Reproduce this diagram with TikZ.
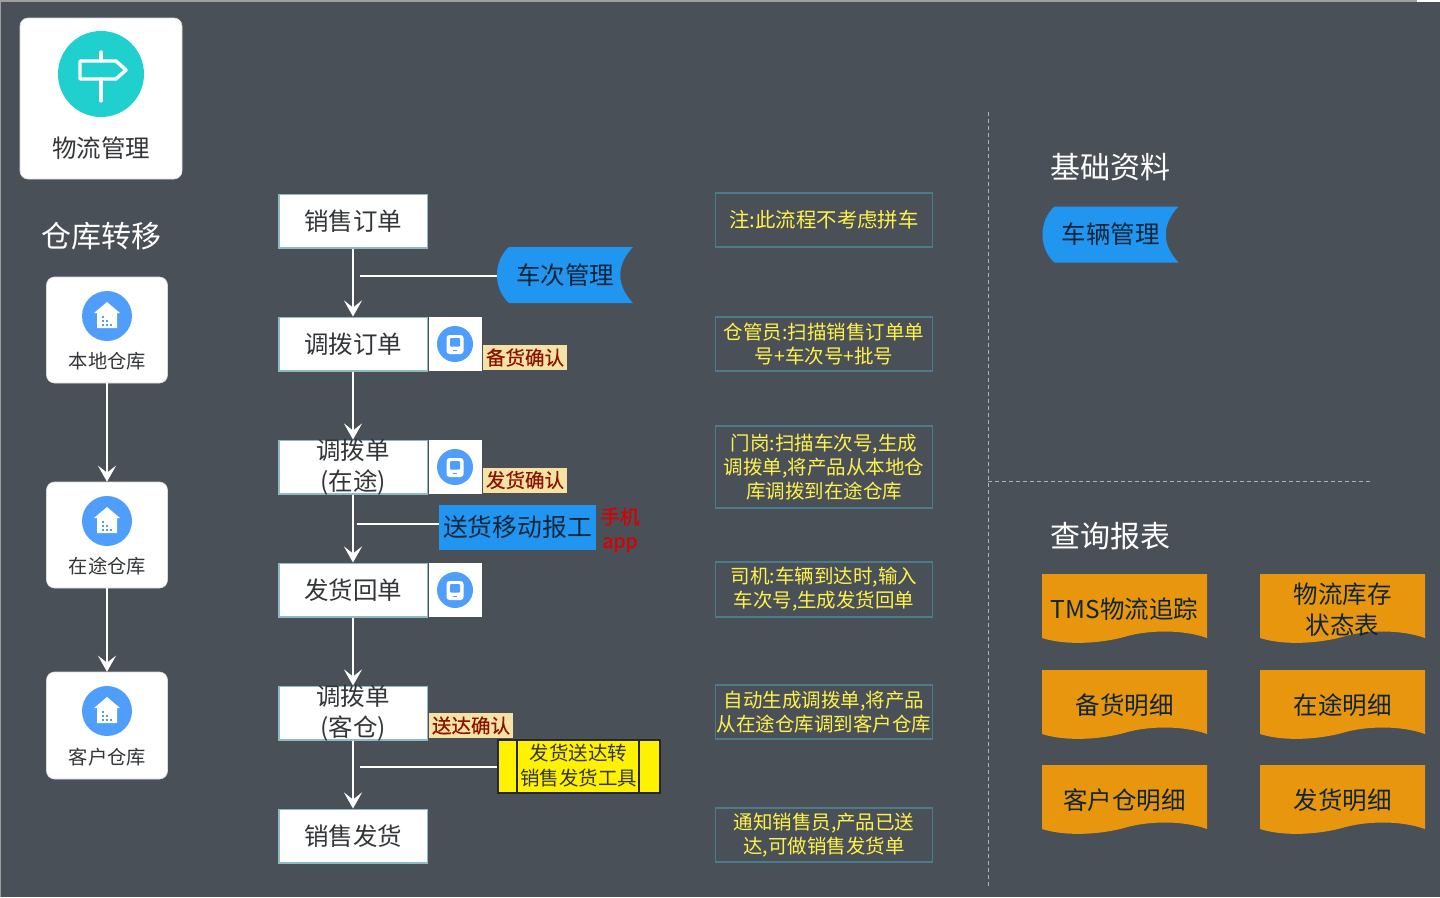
\documentclass[tikz,border=0pt]{standalone}
\usepackage{fontspec}
\setmainfont{Noto Sans CJK SC}
\newfontfamily\tagfont[FakeBold=0.5]{Noto Sans CJK SC}
\usetikzlibrary{arrows.meta}
\definecolor{slate}{HTML}{4A5057}
\definecolor{edgeblue}{HTML}{8DBAC4}
\definecolor{notebox}{HTML}{4C7C8A}
\definecolor{noteink}{HTML}{FFF24D}
\definecolor{tagfill}{HTML}{F6E2A4}
\definecolor{tagink}{HTML}{8A1200}
\definecolor{skyblue}{HTML}{2196F0}
\definecolor{iconblue}{HTML}{4F9EFC}
\definecolor{teal}{HTML}{1FD0CE}
\definecolor{amber}{HTML}{E8960E}
\definecolor{ink}{HTML}{333638}
\definecolor{navy}{HTML}{0F2538}
\newcommand{\toolong}[2][-8.5pt]{\smash{\raisebox{#1}{\begin{tabular}{@{}c@{}}#2\end{tabular}}}}
\tikzset{
  px/.style = {font={\fontsize{#1}{31}\selectfont}},
  scanner/.pic = {
    \fill[iconblue] (0,0) circle (18);
    \fill[white, rounded corners=3pt] (-8.5,-9) rectangle (8.5,10);
    \fill[iconblue, rounded corners=1pt] (-5,-6) rectangle (5,2.5);
    \fill[iconblue] (-2,6) rectangle (2,7);
  },
  depot/.pic = {
    \fill[iconblue] (0,0) circle (25);
    \fill[white] (0,-14) -- (13,-3) -- (10,-3) -- (10,12) -- (-10,12) -- (-10,-3) -- (-13,-3) -- cycle;
    \foreach \x/\y in {-5/0, -5/4, -5/8, -1/4, -1/8, 3/8}
      \fill[iconblue] (\x,\y) rectangle ++(2.2,2.2);
  },
  stored/.pic = {
    \fill[skyblue] (-56,-28) -- (68,-28) .. controls (51,-10) and (51,10) .. (68,28) -- (-56,28)
      .. controls (-72,14) and (-72,-14) .. (-56,-28) -- cycle;
  },
  wavy/.pic = {
    \fill[amber] (-82.5,-35) -- (82.5,-35) -- (82.5,29) .. controls (57.5,20) and (22.5,21) .. (-0.5,28)
      .. controls (-22.5,34) and (-57.5,37) .. (-82.5,29) -- cycle;
  }
}
\begin{document}
\begin{tikzpicture}[x=1pt, y=-1pt, node distance={123pt}, thick,
    main/.style = {draw=edgeblue, line width=1.5pt, fill=white, text=ink, minimum width=148.5pt, minimum height=53.5pt, inner sep=0pt, px=24.5},
    iconbox/.style = {fill=white, minimum width=53pt, minimum height=54pt, inner sep=0pt},
    tag/.style = {fill=tagfill, text=tagink, minimum width=84pt, minimum height=25pt, inner sep=0pt, font=\fontsize{19.5}{24}\tagfont},
    note/.style = {draw=notebox, line width=1.5pt, text=noteink, minimum width=217pt, inner sep=0pt, align=center, font=\fontsize{19.5}{24}\selectfont},
    card/.style = {draw=gray!30, line width=.6pt, fill=white, rounded corners=8pt, inner sep=0pt},
    cardtext/.style = {text=ink, inner sep=0pt, font=\fontsize{19.3}{24}\selectfont},
    title/.style = {text=white, inner sep=0pt, font=\fontsize{30}{36}\selectfont},
    flow/.style = {white, line width=2.4pt, -{Stealth[length=16pt, width=18pt, inset=7pt]}},
    tie/.style = {white, line width=2.4pt},
    rule/.style = {gray!60, line width=.9pt, dash pattern=on 4pt off 3pt},
    storedtext/.style = {minimum width=136pt, minimum height=56pt, inner sep=0pt, text=navy, px=24.5},
    report/.style = {minimum width=165pt, minimum height=70pt, inner sep=0pt, text=navy, px=24.5}]
    \useasboundingbox (0,0) rectangle (1440,897);
    \fill[slate] (0,0) rectangle (1440,897);
    \fill[gray!75] (0,0) rectangle (1440,2);
    \fill[gray!75] (0,0) rectangle (1,897);
    \fill[white] (1417,0) rectangle (1440,2);

    % left column
    \node[card, minimum width=162pt, minimum height=161pt] (0) at (101,98.5) {};
    \fill[teal] (101,74) circle (43);
    \draw[white, line width=3.4pt, line cap=round, line join=round] (80,61) -- (116,61) -- (126,70) -- (116,79) -- (80,79) -- cycle;
    \draw[white, line width=3.4pt, line cap=round] (101,52) -- (101,61);
    \draw[white, line width=3.4pt, line cap=round] (101,79) -- (101,101);
    \node[text=ink, inner sep=0pt, font=\fontsize{24.5}{30}\selectfont] (a) at (101,148) {物流管理};
    \node[title] (b) at (101,236) {仓库转移};
    \node[card, minimum width=121pt, minimum height=106pt] (c1) at (107,330) {};
    \node[card, minimum width=121pt, minimum height=106pt] (c2) at (107,535) {};
    \node[card, minimum width=121pt, minimum height=107pt] (c3) at (107,725.5) {};
    \pic at (107,316) {depot};
    \pic at (107,521) {depot};
    \pic at (107,711) {depot};
    \node[cardtext] at (107.5,361) {本地仓库};
    \node[cardtext] at (107.5,566) {在途仓库};
    \node[cardtext] at (107.5,757) {客户仓库};
    \draw[flow] (c1) -- (c2);
    \draw[flow] (c2) -- (c3);

    % flow
    \node[main] (1) at (353,221) {销售订单};
    \node[main] (2) [below of=1] {调拨订单};
    \node[main] (3) [below of=2] {\toolong{调拨单\\(在途)}};
    \node[main] (4) [below of=3] {发货回单};
    \node[main] (5) [below of=4] {\toolong{调拨单\\(客仓)}};
    \node[main] (6) [below of=5] {销售发货};
    \draw[flow] (1) -- (2);
    \draw[flow] (2) -- (3);
    \draw[flow] (3) -- (4);
    \draw[flow] (4) -- (5);
    \draw[flow] (5) -- (6);

    \node[iconbox] (i2) [right of=2, node distance={102pt}] {};
    \node[iconbox] (i3) [right of=3, node distance={102pt}] {};
    \node[iconbox] (i4) [right of=4, node distance={102pt}] {};
    \pic at (i2) {scanner};
    \pic at (i3) {scanner};
    \pic at (i4) {scanner};
    \node[tag] (t2) at (525,357.5) {备货确认};
    \node[tag] (t3) at (525,480) {发货确认};
    \node[tag] (t5) at (471,725.5) {送达确认};

    \coordinate (p1) at (360,276);
    \coordinate (p2) at (357,524);
    \coordinate (p3) at (360,767);
    \pic at (565,275) {stored};
    \node[storedtext] (7) at (565,275) {车次管理};
    \node[fill=skyblue, text=navy, minimum width=157pt, minimum height=45pt, inner sep=0pt, font=\fontsize{24.8}{31}\selectfont] (8) at (517.5,527.5) {\raisebox{-2pt}{送货移动报工}};
    \node[draw=black!85, line width=2pt, fill=yellow, text=ink, minimum width=162pt, minimum height=53pt, inner sep=0pt, align=center, font=\fontsize{19.5}{25}\selectfont] (9) at (578.5,766) {发货送达转\\销售发货工具};
    \draw[black!85, line width=1.5pt] (517,739.5) -- (517,792.5);
    \draw[black!85, line width=1.5pt] (639,739.5) -- (639,792.5);
    \draw[tie] (p1) -- (p1 -| 7.west);
    \draw[tie] (p2) -- (p2 -| 8.west);
    \draw[tie] (p3) -- (p3 -| 9.west);
    \node[text=red!85!black, inner sep=0pt, align=center, font=\fontsize{19.5}{24}\tagfont] (m) at (620,530) {手机\\app};

    % notes
    \node[note, minimum height=54pt, font=\fontsize{20.4}{24}\selectfont] (n1) at (824,220) {注:此流程不考虑拼车};
    \node[note, minimum height=54pt] (n2) at (824,344) {仓管员:扫描销售订单单\\号+车次号+批号};
    \node[note, minimum height=82pt] (n3) at (824,467) {门岗:扫描车次号,生成\\调拨单,将产品从本地仓\\库调拨到在途仓库};
    \node[note, minimum height=55pt] (n4) at (824,589.5) {司机:车辆到达时,输入\\车次号,生成发货回单};
    \node[note, minimum height=54pt] (n5) at (824,712) {自动生成调拨单,将产品\\从在途仓库调到客户仓库};
    \node[note, minimum height=54pt] (n6) at (824,835) {通知销售员,产品已送\\达,可做销售发货单};

    % right side
    \coordinate (r1) at (988,112);
    \coordinate (r2) at (988,887);
    \coordinate (r3) at (988,481);
    \coordinate (r4) at (1370,481);
    \draw[rule] (r1) -- (r2);
    \draw[rule] (r3) -- (r4);
    \node[title] (h1) at (1110,167) {基础资料};
    \pic at (1110.5,234.5) {stored};
    \node[storedtext] (r) at (1110.5,234.5) {车辆管理};
    \node[title] (h2) at (1110,536) {查询报表};
    \foreach \x/\y in {1124.5/609, 1342.5/609, 1124.5/705, 1342.5/705, 1124.5/800, 1342.5/800}
      \pic at (\x,\y) {wavy};
    \node[report] (q1) at (1124.5,609) {TMS物流追踪};
    \node[report] (q2) [right of=q1, node distance={218pt}] {\toolong[-10pt]{物流库存\\状态表}};
    \node[report] (q3) at (1124.5,705) {备货明细};
    \node[report] (q4) [right of=q3, node distance={218pt}] {在途明细};
    \node[report] (q5) at (1124.5,800) {客户仓明细};
    \node[report] (q6) [right of=q5, node distance={218pt}] {发货明细};
\end{tikzpicture}
\end{document}
